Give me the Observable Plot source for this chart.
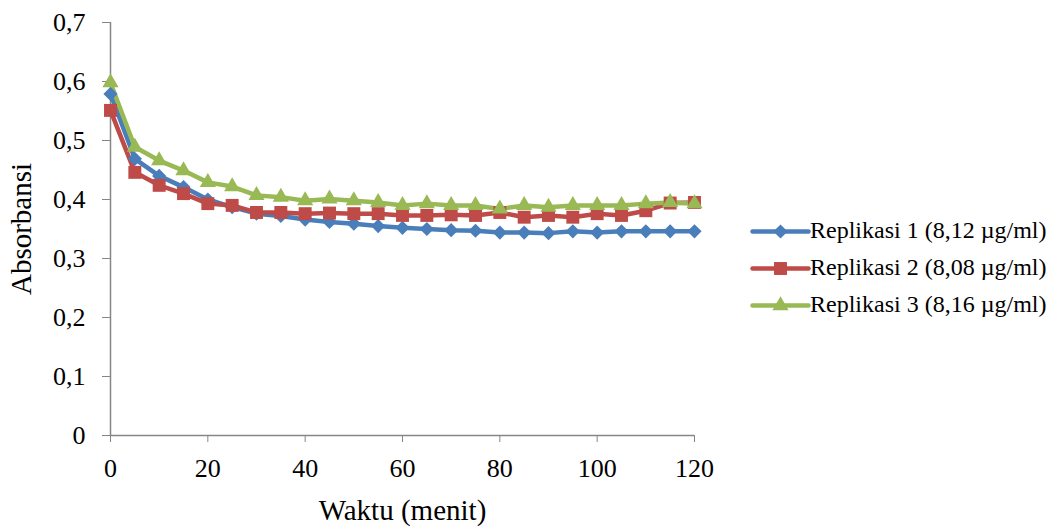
<!DOCTYPE html>
<html>
<head>
<meta charset="utf-8">
<script src="https://cdn.jsdelivr.net/npm/d3@7"></script>
<script src="https://cdn.jsdelivr.net/npm/@observablehq/plot@0.6"></script>
<style>
  html, body { margin: 0; padding: 0; background: #fff; }
  #wrap { position: relative; width: 1055px; height: 527px; font-family: "Liberation Serif", "Times New Roman", serif; }
  #legend { position: absolute; left: 752px; top: 212px; }
  .row { display: flex; align-items: center; height: 37px; font-size: 24px; color: #000; white-space: nowrap; }
  .row svg { margin-right: 2px; }
</style>
</head>
<body>
<div id="wrap"><div id="legend"></div></div>
<script>
const times = [0,5,10,15,20,25,30,35,40,45,50,55,60,65,70,75,80,85,90,95,100,105,110,115,120];
const rep1 = [0.579,0.469,0.440,0.421,0.400,0.387,0.376,0.372,0.366,0.362,0.359,0.355,0.352,0.350,0.348,0.347,0.344,0.344,0.343,0.346,0.344,0.346,0.346,0.346,0.346];
const rep2 = [0.551,0.446,0.424,0.410,0.393,0.390,0.378,0.378,0.376,0.377,0.376,0.376,0.373,0.373,0.374,0.373,0.378,0.370,0.373,0.370,0.376,0.373,0.381,0.394,0.395];
const rep3 = [0.598,0.489,0.466,0.449,0.429,0.422,0.407,0.404,0.398,0.401,0.398,0.395,0.390,0.393,0.390,0.390,0.384,0.390,0.387,0.390,0.390,0.390,0.393,0.395,0.393];
const seriesNames = ["Replikasi 1 (8,12 µg/ml)", "Replikasi 2 (8,08 µg/ml)", "Replikasi 3 (8,16 µg/ml)"];
const seriesColors = ["#4A7EBB", "#BE4B48", "#98B954"];
const seriesSymbols = ["diamond2", "square", "triangle"];
const markerR = [6.4, 7.3, 6.0];
const xTicks = [0,20,40,60,80,100,120];
const yTicks = [0,0.1,0.2,0.3,0.4,0.5,0.6,0.7];

const allSeries = [rep1, rep2, rep3];
const data = [];
allSeries.forEach((vals, i) => vals.forEach((v, j) => data.push({t: times[j], v, s: seriesNames[i], i})));

const fmt = d => String(d).replace(".", ",");
const axisColor = "#868686";
const fontFam = "'Liberation Serif', 'Times New Roman', serif";

const chart = Plot.plot({
  width: 1055,
  height: 527,
  marginLeft: 110,
  marginRight: 361,
  marginTop: 22,
  marginBottom: 92,
  style: {fontFamily: fontFam, fontSize: "26px", color: "#000", background: "transparent"},
  x: {domain: [0, 120]},
  y: {domain: [0, 0.7]},
  color: {domain: seriesNames, range: seriesColors},
  symbol: {domain: seriesNames, range: seriesSymbols},
  marks: [
    Plot.axisX({ticks: xTicks, tickFormat: fmt, tickSize: 7, tickPadding: 16, stroke: axisColor, fontSize: 26, label: null}),
    Plot.axisY({ticks: yTicks, tickFormat: fmt, tickSize: 8, tickPadding: 17, stroke: axisColor, fontSize: 26, label: null}),
    Plot.axisX({ticks: [], label: "Waktu (menit)", labelAnchor: "center", labelArrow: "none", labelOffset: 84, fontSize: 29, tickSize: 0}),
    Plot.axisY({ticks: [], label: "Absorbansi", labelAnchor: "center", labelArrow: "none", labelOffset: 100, fontSize: 29, tickSize: 0}),
    Plot.ruleY([0], {stroke: axisColor, strokeWidth: 1.5}),
    Plot.ruleX([0], {stroke: axisColor, strokeWidth: 1.5}),
    Plot.line(data, {x: "t", y: "v", z: "s", stroke: "s", strokeWidth: 4.5, strokeLinejoin: "round"}),
    ...seriesNames.map((name, i) =>
      Plot.dot(data.filter(d => d.s === name), {x: "t", y: "v", symbol: "s", fill: "s", r: markerR[i], stroke: "none"})
    )
  ]
});
document.getElementById("wrap").prepend(chart);
chart.style.position = "absolute";
chart.style.left = "0";
chart.style.top = "0";

const legend = document.getElementById("legend");
seriesNames.forEach((name, i) => {
  const row = document.createElement("div");
  row.className = "row";
  const sw = Plot.plot({
    width: 56, height: 20, margin: 0,
    x: {domain: [0, 1], axis: null}, y: {domain: [0, 1], axis: null},
    style: {background: "transparent", overflow: "visible"},
    marks: [
      Plot.lineY([0.5, 0.5], {x: [0, 1], stroke: seriesColors[i], strokeWidth: 4.5, strokeLinecap: "round"}),
      Plot.dot([0], {x: () => 0.5, y: () => 0.5, symbol: seriesSymbols[i], fill: seriesColors[i], r: markerR[i], stroke: "none"})
    ]
  });
  row.appendChild(sw);
  const label = document.createElement("span");
  label.textContent = name;
  row.appendChild(label);
  legend.appendChild(row);
});
</script>
</body>
</html>
